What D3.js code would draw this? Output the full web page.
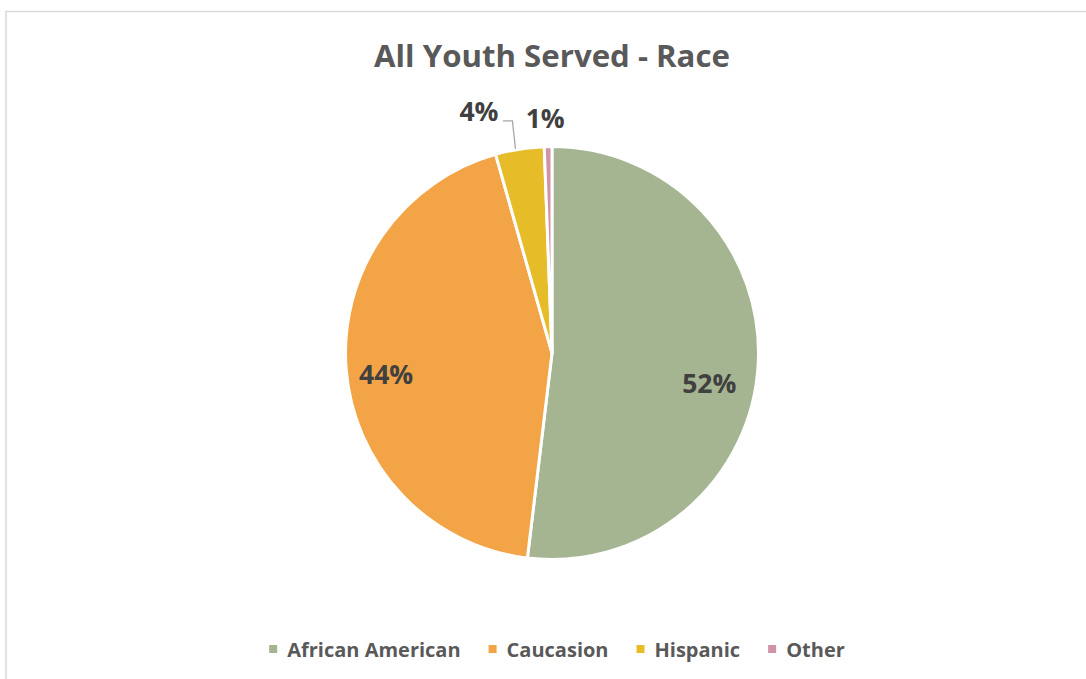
<!DOCTYPE html>
<html>
<head>
<meta charset="utf-8">
<script src="https://cdn.jsdelivr.net/npm/d3@7"></script>
<style>
  html, body { margin: 0; padding: 0; background: #ffffff; }
  svg { display: block; }
  text { font-family: "Open Sans", "Lato", sans-serif; font-weight: 700; }
</style>
</head>
<body>
<svg id="chart" width="1086" height="679"></svg>
<script>
// Race breakdown of all youth served (share of total, percent)
const categories = ["African American", "Caucasion", "Hispanic", "Other"];
const shares = [51.9, 43.7, 3.8, 0.6];
const colors = ["#a5b592", "#f3a447", "#e7bc29", "#d092a7"];
const chartTitle = "All Youth Served - Race";

const svg = d3.select("#chart");

// chart area frame (runs off the right and bottom edges)
svg.append("rect")
  .attr("x", 6).attr("y", 11.5)
  .attr("width", 1100).attr("height", 700)
  .attr("fill", "none")
  .attr("stroke", "#d9d9d9")
  .attr("stroke-width", 1.5);

// title
svg.append("text")
  .attr("x", 552).attr("y", 67)
  .attr("text-anchor", "middle")
  .attr("font-size", 31.2)
  .attr("fill", "#595959")
  .text(chartTitle);

const cx = 552, cy = 353, R = 206.5;
const data = categories.map((c, i) => ({ name: c, value: shares[i], color: colors[i] }));

const pie = d3.pie().value(d => d.value).sort(null);
const arcs = pie(data);
const arc = d3.arc().innerRadius(0).outerRadius(R);

const g = svg.append("g").attr("transform", `translate(${cx},${cy})`);

g.selectAll("path.slice")
  .data(arcs)
  .enter().append("path")
  .attr("class", "slice")
  .attr("d", arc)
  .attr("fill", d => d.data.color)
  .attr("stroke", "#ffffff")
  .attr("stroke-width", 3)
  .attr("stroke-linejoin", "round");

// data label placement: angle shift (radians) and radius factor per slice
const labelPlace = [
  { dA: 0.128, k: 0.775 },
  { dA: -0.048, k: 0.81 },
  { dA: -0.136, k: 1.225 },
  { dA: -0.010, k: 1.14 }
];

function polar(angle, r) {
  return [r * Math.sin(angle), -r * Math.cos(angle)];
}

arcs.forEach((a, i) => {
  const mid = (a.startAngle + a.endAngle) / 2 + labelPlace[i].dA;
  const [x, y] = polar(mid, R * labelPlace[i].k);
  g.append("text")
    .attr("x", x).attr("y", y)
    .attr("text-anchor", "middle")
    .attr("dominant-baseline", "central")
    .attr("font-size", 26.5)
    .attr("fill", "#404040")
    .text(Math.round(a.data.value) + "%");
});

// leader line for the Hispanic label
{
  const a = arcs[2];
  const mid = (a.startAngle + a.endAngle) / 2;
  const [ex, ey] = polar(mid - 0.02, R + 1);
  const lbl = polar(mid + labelPlace[2].dA, R * labelPlace[2].k);
  const lx = lbl[0] + 24, ly = lbl[1] + 10;
  g.append("polyline")
    .attr("points", [[lx, ly], [ex - 3, ly], [ex, ey]].map(p => p.join(",")).join(" "))
    .attr("fill", "none")
    .attr("stroke", "#a6a6a6")
    .attr("stroke-width", 1.3);
}

// legend
const legendY = 649;
const items = svg.append("g").selectAll("g.item").data(data).enter().append("g").attr("class", "item");
items.append("rect")
  .attr("width", 8).attr("height", 8)
  .attr("y", legendY - 4)
  .attr("fill", d => d.color);
items.append("text")
  .attr("x", 18)
  .attr("y", legendY)
  .attr("dominant-baseline", "central")
  .attr("font-size", 20)
  .attr("fill", "#595959")
  .text(d => d.name);

// lay legend entries out left to right, centred under the pie
const gap = 28;
const widths = [];
items.each(function () {
  widths.push(18 + d3.select(this).select("text").node().getComputedTextLength());
});
const total = d3.sum(widths) + gap * (widths.length - 1);
let xPos = 557 - total / 2;
items.each(function (d, i) {
  d3.select(this).attr("transform", `translate(${xPos},0)`);
  xPos += widths[i] + gap;
});
</script>
</body>
</html>
